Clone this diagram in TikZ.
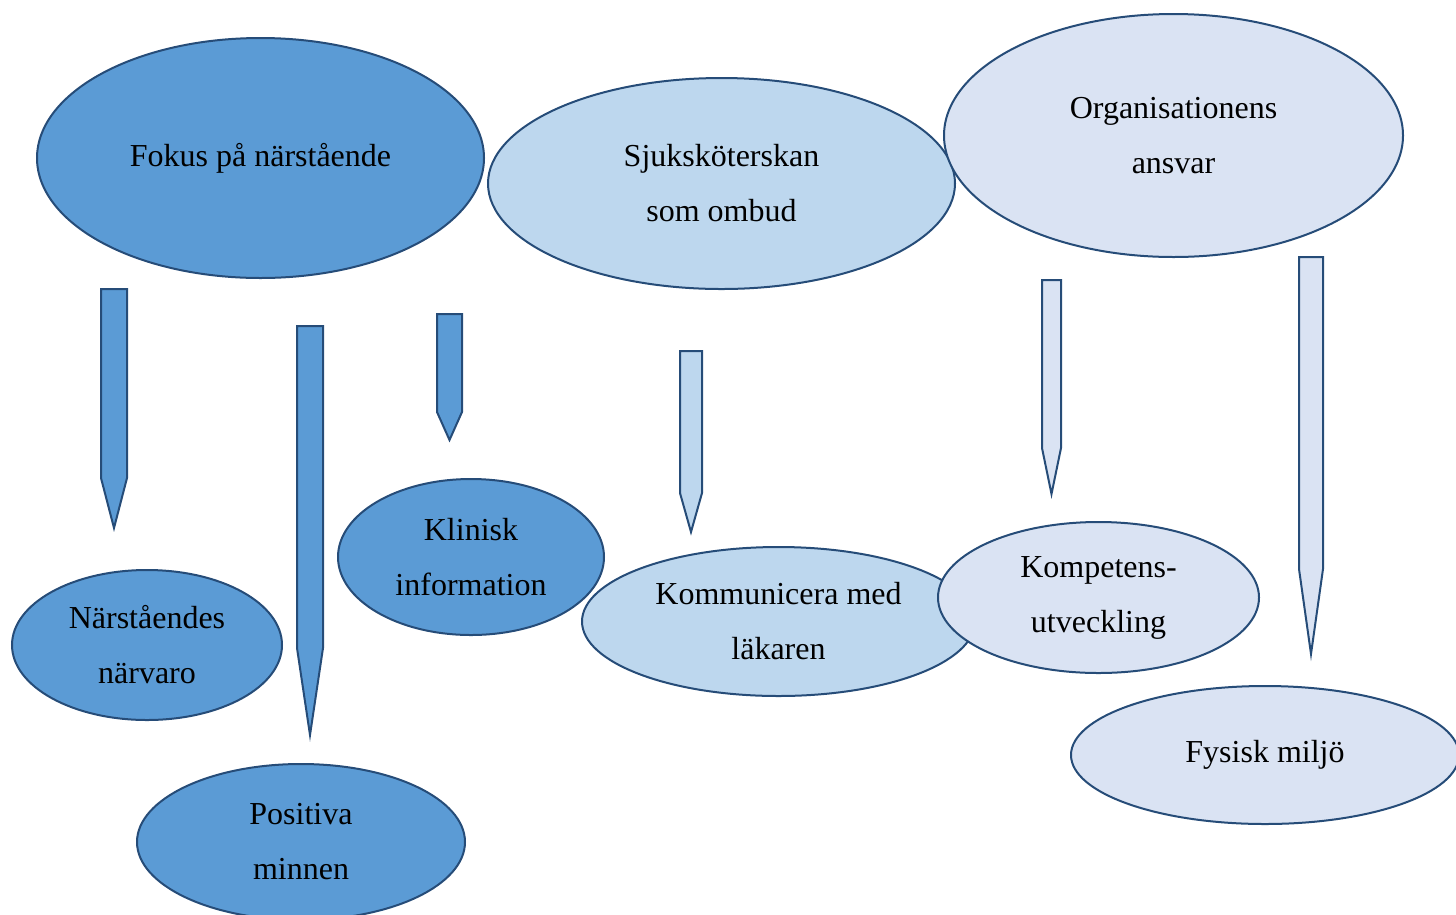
\documentclass[tikz,border=0pt]{standalone}
\usepackage{fontspec}
\setmainfont{Liberation Serif}
\usetikzlibrary{shapes.geometric}
\definecolor{edgeblue}{RGB}{38,76,120}
\definecolor{darkfill}{RGB}{91,155,213}
\definecolor{midfill}{RGB}{189,215,238}
\definecolor{lightfill}{RGB}{218,227,243}
% pencil-shaped down arrow: centre x, top, end of shaft, tip, half width
\newcommand{\pencil}[6]{%
  \draw[pen, fill=#6] (#1-#5,#2) -- (#1+#5,#2) -- (#1+#5,#3) -- (#1,#4)
    -- (#1-#5,#3) -- cycle;}

\begin{document}
\begin{tikzpicture}[x=1pt, y=-1pt,
    blob/.style={ellipse, draw=edgeblue, line width=2pt, inner sep=0pt,
                 align=center, font=\fontsize{32}{55}\selectfont},
    dark/.style={blob, fill=darkfill},
    mid/.style={blob, fill=midfill},
    light/.style={blob, fill=lightfill},
    pen/.style={draw=edgeblue, line width=2pt, line join=miter}
]
\useasboundingbox (0,0) rectangle (1456,914);
\clip (0,0) rectangle (1456,914);

% top row
\node[dark, minimum width=447pt, minimum height=240pt] (fokus) at (260.5,158)
    {Fokus på närstående};
\node[mid, minimum width=467pt, minimum height=211pt] (ombud) at (721.5,183.5)
    {Sjuksköterskan\\som ombud};
\node[light, minimum width=459pt, minimum height=243pt] (org) at (1173.5,135.5)
    {Organisationens\\ansvar};

% arrows
\pencil{114}{289}{478}{528}{13}{darkfill}
\pencil{310}{326}{648}{735}{13}{darkfill}
\pencil{449.5}{314}{412}{440}{12.5}{darkfill}
\pencil{691}{351}{493}{532}{11}{midfill}
\pencil{1051.5}{280}{448}{494}{9.5}{lightfill}
\pencil{1311}{257}{569}{654}{12}{lightfill}

% lower row
\node[dark, minimum width=270pt, minimum height=150pt] (narvaro) at (147,645)
    {Närståendes\\närvaro};
\node[dark, minimum width=328pt, minimum height=156pt] (minnen) at (301,842)
    {Positiva\\minnen};
\node[dark, minimum width=266pt, minimum height=156pt] (klinisk) at (471,557)
    {Klinisk\\information};
\node[mid, minimum width=393pt, minimum height=149pt] (lakaren) at (778.5,621.5)
    {Kommunicera med\\läkaren};
\node[light, minimum width=321pt, minimum height=151pt] (kompetens) at (1098.5,597.5)
    {Kompetens-\\utveckling};
\node[light, minimum width=388pt, minimum height=138pt] (miljo) at (1265,755)
    {Fysisk miljö};
\end{tikzpicture}
\end{document}
